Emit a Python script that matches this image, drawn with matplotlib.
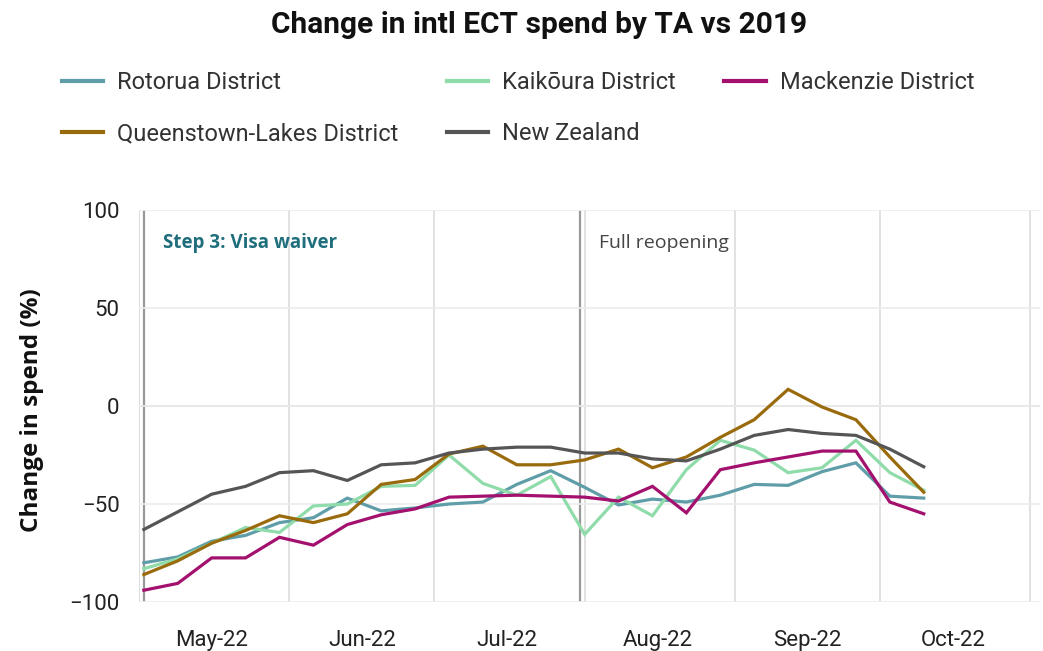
import matplotlib
matplotlib.use('Agg')
import matplotlib.pyplot as plt
import matplotlib.dates as mdates
import pandas as pd

# weekly points, week starting Mon 2 May 2022
weeks = pd.date_range('2022-05-02', periods=24, freq='7D')

rotorua = [-80, -77, -69, -66, -59.5, -57, -47, -53.5, -52, -50, -49, -40,
           -33, -41.5, -50.5, -47.5, -49, -45.5, -40, -40.5, -33.5, -29, -46, -47]
kaikoura = [-83, -78, -70, -62, -64.5, -51, -50, -41, -40.5, -25, -39.5, -45.5,
            -36, -65.5, -46.5, -56, -32.5, -17.5, -22.5, -34, -31.5, -17.5, -34, -43]
mackenzie = [-94, -90.5, -77.5, -77.5, -67, -71, -60.5, -55.5, -52.5, -46.5, -46, -45.5,
             -46, -46.5, -48.5, -41, -54.5, -32.5, -29, -26, -23, -23, -49, -55]
queenstown = [-86, -79, -70, -63.5, -56, -59.5, -55, -40, -37.5, -24.5, -20.5, -30,
              -30, -27.5, -22, -31.5, -26, -16, -7, 8.5, -0.5, -7, -26, -44]
nz = [-63, -54, -45, -41, -34, -33, -38, -30, -29, -24, -22, -21,
      -21, -24, -24, -27, -28, -22, -15, -12, -14, -15, -22, -31]

series = {
    'Rotorua District': (rotorua, '#5f9ea8'),
    'Kaikōura District': (kaikoura, '#8fdcaa'),
    'Mackenzie District': (mackenzie, '#a3106e'),
    'Queenstown-Lakes District': (queenstown, '#9a6b0c'),
    'New Zealand': (nz, '#555555'),
}

events = [('2022-05-02', 'Step 3: Visa waiver', '#1f6e7c', 'bold', 13.5),
          ('2022-07-31', 'Full reopening', '#444444', 'normal', 14)]

fig = plt.figure(figsize=(10.43, 6.51), dpi=100)
ax = fig.add_axes([139/1043, 1-602/651, (1040-139)/1043, (602-210)/651])

lines = {}
for name, (vals, col) in series.items():
    ln, = ax.plot(weeks, vals, color=col, lw=2.3, label=name, solid_joinstyle='miter')
    lines[name] = ln

ax.set_ylim(-100, 100)
ax.set_xlim(pd.Timestamp('2022-05-01'), pd.Timestamp('2022-11-03'))
ax.set_yticks([-100, -50, 0, 50, 100])

ax.xaxis.set_major_locator(mdates.MonthLocator())
ax.xaxis.set_major_formatter(plt.NullFormatter())
ax.xaxis.set_minor_locator(mdates.MonthLocator(bymonth=[5, 6, 7, 8, 9, 10], bymonthday=16))
ax.xaxis.set_minor_formatter(mdates.DateFormatter('%b-%y'))
ax.tick_params(axis='x', which='both', length=0, pad=20)
ax.tick_params(axis='x', which='minor', labelsize=16, labelcolor='#222222')
ax.tick_params(axis='y', length=0, pad=14, labelsize=16, labelcolor='#222222')
for lab in ax.get_xticklabels(minor=True) + ax.get_yticklabels():
    lab.set_family('Roboto')

ax.grid(axis='x', which='major', color='#dcdcdc', lw=1.2)
ax.grid(axis='y', color='#ececec', lw=1.2)
ax.axhline(0, color='#d0d0d0', lw=1.2, zorder=0.5)
ax.axvline(pd.Timestamp('2022-05-01'), color='#dcdcdc', lw=1.2, zorder=0.5)
for sp in ax.spines.values():
    sp.set_visible(False)

for d, txt, col, wt, fs in events:
    ax.axvline(pd.Timestamp(d), color='#999999', lw=1.6, zorder=1)
    ax.text(pd.Timestamp(d) + pd.Timedelta(days=4), 83, txt, color=col, fontweight=wt,
            fontsize=fs, family='Open Sans', va='center', ha='left')

fig.text(539/1043, 1-25/651, 'Change in intl ECT spend by TA vs 2019', ha='center', va='center',
         fontsize=21.5, fontweight='bold', family='Roboto', color='#111111')
fig.text(32/1043, 1-410/651, 'Change in spend (%)', rotation=90, ha='center', va='center',
         fontsize=17.5, fontweight='bold', family='Open Sans', color='#111111')

order = ['Rotorua District', 'Queenstown-Lakes District', 'Kaikōura District',
         'New Zealand', 'Mackenzie District']
leg = fig.legend([lines[n] for n in order], order, ncol=3, loc='upper left',
                 bbox_to_anchor=(62/1043, 1-71/651), frameon=False, borderpad=0,
                 borderaxespad=0, handlelength=1.74, handletextpad=0.6, columnspacing=2.05,
                 labelspacing=1.2, prop={'family': 'Roboto', 'size': 17})
for t in leg.get_texts():
    t.set_color('#333333')
for h in leg.legend_handles:
    h.set_linewidth(3)

fig.savefig('out.png', dpi=100)
